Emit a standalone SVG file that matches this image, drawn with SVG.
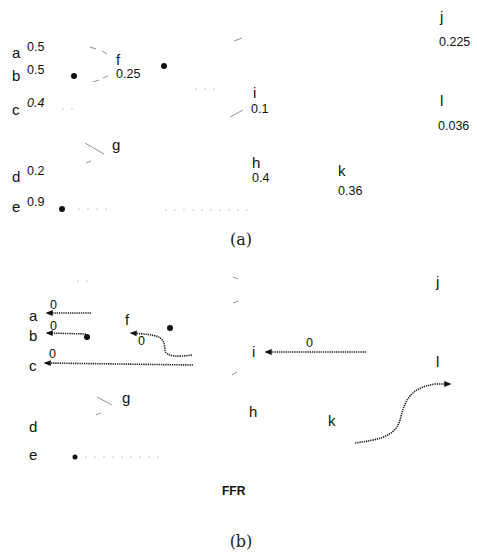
<svg xmlns="http://www.w3.org/2000/svg" width="477" height="554" viewBox="0 0 477 554">
<defs>
<style>
.lb{font-family:"Liberation Sans",Arial,sans-serif;font-size:15px;fill:#111}
.nm{font-family:"Liberation Sans",Arial,sans-serif;font-size:12.5px;fill:#111}
.cap{font-family:"DejaVu Serif","Liberation Serif",serif;font-size:16px;fill:#222}
.ffr{font-family:"Liberation Sans",Arial,sans-serif;font-size:12px;font-weight:bold;fill:#111}
.dot{fill:#111}
.arr{fill:none;stroke:#222;stroke-width:1.6;stroke-dasharray:1.3 0.9;marker-end:url(#ah)}
.faint{fill:none;stroke:#888;stroke-width:0.9}
.faintd{fill:none;stroke:#bbb;stroke-width:0.8;stroke-dasharray:2 7}
</style>
<marker id="ah" viewBox="0 0 10 10" refX="8" refY="5" markerWidth="4.5" markerHeight="4.5" orient="auto">
<path d="M0,1 L10,5 L0,9 Z" fill="#111"/>
</marker>
</defs>
<rect width="477" height="554" fill="#fff"/>

<!-- Panel (a) faint sketch marks -->
<g id="faint-a">
<path class="faint" d="M90,47 L96,49 M102,51 L107,54"/>
<path class="faint" d="M93,82 L99,80 M103,78 L108,76"/>
<path class="faint" d="M85,143 L104,154"/>
<path class="faint" d="M86,163 L91,161"/>
<path class="faint" d="M230,117 L243,110"/>
<path class="faint" d="M234,41 L242,38"/>
<path class="faintd" d="M78,209 L110,209 M165,210 L250,210"/>
<path class="faintd" d="M195,89 L222,89 M62,109 L75,109"/>
</g>

<g id="a-a"><text class="lb" x="12" y="58">a</text><text class="nm" x="27" y="51">0.5</text></g>
<g id="a-b"><text class="lb" x="12" y="81">b</text><text class="nm" x="27" y="74">0.5</text><circle class="dot" cx="74" cy="76" r="3"/></g>
<g id="a-c"><text class="lb" x="12" y="115">c</text><text class="nm" x="27" y="107" font-style="italic">0.4</text></g>
<g id="a-d"><text class="lb" x="12" y="182">d</text><text class="nm" x="27" y="175">0.2</text></g>
<g id="a-e"><text class="lb" x="12" y="212">e</text><text class="nm" x="27" y="206">0.9</text><circle class="dot" cx="62" cy="209" r="3"/></g>
<g id="a-f"><text class="lb" x="116" y="65">f</text><text class="nm" x="116" y="78">0.25</text><circle class="dot" cx="164" cy="66" r="3"/></g>
<g id="a-g"><text class="lb" x="112" y="150">g</text></g>
<g id="a-i"><text class="lb" x="253" y="98">i</text><text class="nm" x="251" y="113">0.1</text></g>
<g id="a-h"><text class="lb" x="252" y="168">h</text><text class="nm" x="252" y="182">0.4</text></g>
<g id="a-k"><text class="lb" x="338" y="176">k</text><text class="nm" x="338" y="195">0.36</text></g>
<g id="a-j"><text class="lb" x="440" y="22">j</text><text class="nm" x="439" y="46">0.225</text></g>
<g id="a-l"><text class="lb" x="440" y="106">l</text><text class="nm" x="438" y="130">0.036</text></g>
<text class="cap" x="241" y="245" text-anchor="middle">(a)</text>

<!-- Panel (b) faint marks -->
<g id="faint-b">
<path class="faint" d="M97,397 L112,405"/>
<path class="faint" d="M96,415 L101,413"/>
<path class="faint" d="M233,277 L238,279 M233,303 L238,301"/>
<path class="faint" d="M232,375 L237,372"/>
<path class="faintd" d="M77,281 L92,281"/>
<path class="faintd" d="M85,457 L160,457"/>
</g>

<g id="connectors">
<path class="arr" d="M91,313 L47,313"/>
<path class="arr" d="M86,334 L47,333"/>
<path class="arr" d="M193,365 L45,363"/>
<path class="arr" d="M192,355 C178,357 166,357 165,350 C164,336 160,335 131,333"/>
<path class="arr" d="M366,352 L266,352"/>
<path class="arr" d="M355,443 C375,440 395,438 400,420 C405,400 410,388 435,384 L450,384"/>
</g>
<g id="edge-labels">
<text class="nm" x="50" y="309">0</text>
<text class="nm" x="50" y="330">0</text>
<text class="nm" x="49" y="358">0</text>
<text class="nm" x="138" y="345">0</text>
<text class="nm" x="306" y="347">0</text>
</g>

<g id="b-a"><text class="lb" x="29" y="321">a</text></g>
<g id="b-b"><text class="lb" x="29" y="341">b</text><circle class="dot" cx="87" cy="337" r="3"/></g>
<g id="b-c"><text class="lb" x="29" y="371">c</text></g>
<g id="b-d"><text class="lb" x="29" y="432">d</text></g>
<g id="b-e"><text class="lb" x="29" y="460">e</text><circle class="dot" cx="75" cy="457" r="2.5"/></g>
<g id="b-f"><text class="lb" x="125" y="325">f</text><circle class="dot" cx="170" cy="328" r="3"/></g>
<g id="b-g"><text class="lb" x="122" y="403">g</text></g>
<g id="b-h"><text class="lb" x="249" y="417">h</text></g>
<g id="b-i"><text class="lb" x="252" y="357">i</text></g>
<g id="b-j"><text class="lb" x="436" y="287">j</text></g>
<g id="b-k"><text class="lb" x="328" y="426">k</text></g>
<g id="b-l"><text class="lb" x="436" y="367">l</text></g>
<text class="ffr" x="222" y="495">FFR</text>
<text class="cap" x="241" y="547" text-anchor="middle">(b)</text>
</svg>
